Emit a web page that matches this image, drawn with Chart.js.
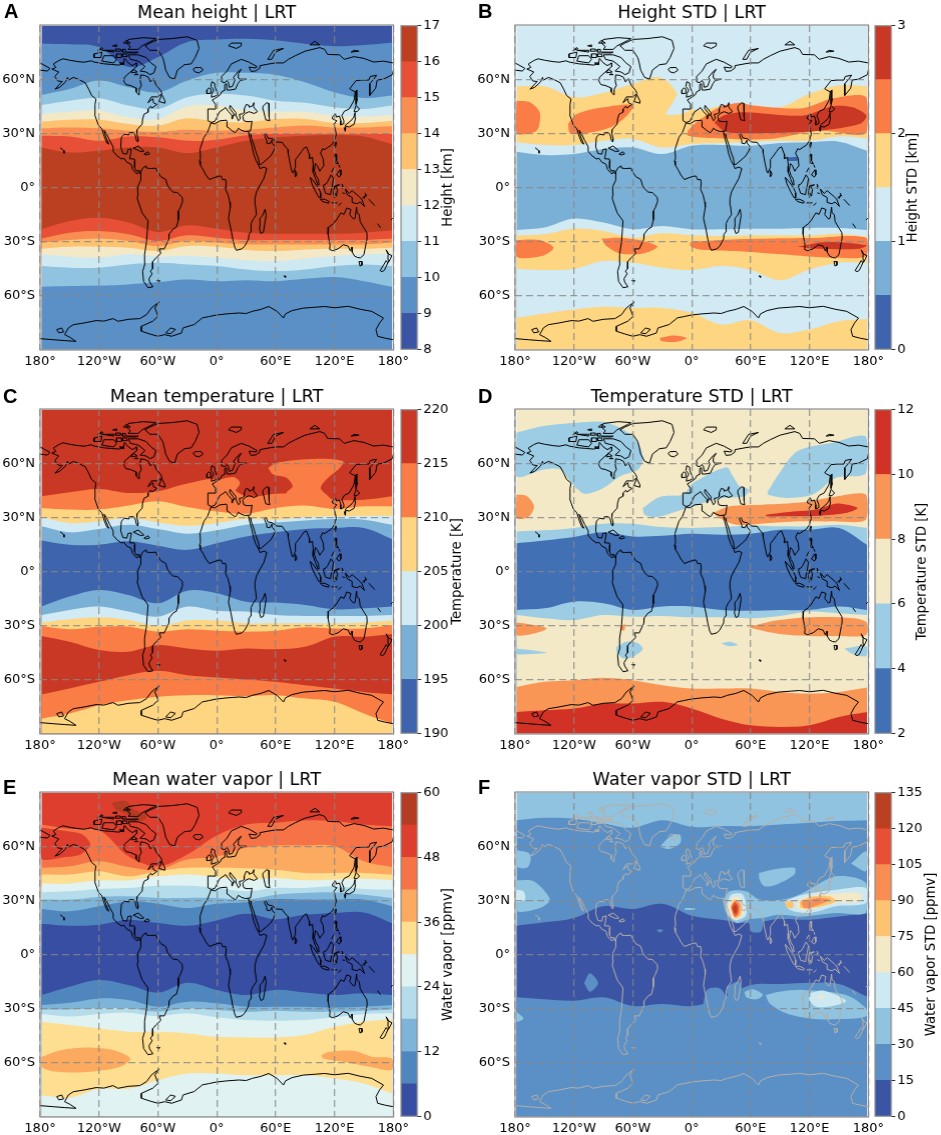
<!DOCTYPE html>
<html>
<head>
<meta charset="utf-8">
<title>LRT maps</title>
<script src="https://cdn.jsdelivr.net/npm/chart.js@4"></script>
<style>
  html, body { margin: 0; padding: 0; background: #fff; }
  #page { position: relative; width: 941px; height: 1135px; overflow: hidden; }
  canvas { position: absolute; display: block; }
  .letter { position: absolute; font: bold 20px/20px "Liberation Sans", sans-serif; color: #000; }
</style>
</head>
<body>
<div id="page"></div>
<script>
// longitudes shared by all contour edges
var edgeLons = [-178.6,-150,-120,-90,-60,-30,0,30,60,90,120,150,178.6];
var xTicks = [-180,-120,-60,0,60,120,180];
var xTickLabels = ['180°','120°W','60°W','0°','60°E','120°E','180°'];
var yTicks = [-60,-30,0,30,60];
var yTickLabels = ['60°S','30°S','0°','30°N','60°N'];

// A: mean height
var heightLevels = [8,9,10,11,12,13,14,15,16,17];
var heightTicks = [8,9,10,11,12,13,14,15,16,17];
var heightBands = [0,1,2,3,4,5,6,7,8,7,6,5,4,3,2,1];
var heightEdges = [
  [79.6,79.3,77.8,66.7,72.2,80.6,82,82.4,81.5,79.6,78.3,79,80.2],
  [51.3,54.6,59.3,55.6,52.8,59.3,63.5,63.5,62.4,58.3,52.8,49.6,50.9],
  [45.7,48.1,49.4,45.4,43.5,50,51.9,50.9,48.1,46.9,44.4,43.5,45.4],
  [40.7,42,42.6,38.9,38,45,45.4,42.6,42,42,39.8,39.4,40.2],
  [36.5,37.6,37.6,35.2,34.3,38.3,36.5,36.1,38,38,35.7,35.7,37],
  [32.8,33.3,32.8,31.5,30.9,32,31.5,32,33.3,34.3,33.3,33.3,33.9],
  [28.7,28.3,25.9,28.3,27.8,25.9,26.5,29,29.6,29.6,29.6,29.6,29.6],
  [22.2,19.4,20.4,22.2,22.2,19.1,22.2,25.9,27.8,28.7,29.1,28.3,24.1],
  [-23.1,-18.5,-16.7,-19.4,-24.6,-20.9,-22.8,-25,-25.6,-25.6,-25.6,-25,-23.7],
  [-28.3,-25,-24.1,-25.9,-29.6,-26.5,-27.8,-29.1,-29.1,-29.1,-29.1,-29.1,-28.3],
  [-30.6,-29.1,-28.3,-29.6,-32.4,-29.6,-30.6,-31.5,-31.5,-31.5,-31.5,-31.5,-30.6],
  [-33.9,-32.8,-32.8,-33.3,-35.2,-32.4,-32.8,-34.6,-35.2,-34.3,-33.9,-33.9,-33.3],
  [-37,-38.3,-38.9,-37,-38.3,-38,-38.9,-40.2,-40.7,-39.4,-38,-37,-36.5],
  [-43.5,-44.4,-44.4,-42.6,-41.7,-42.6,-43.5,-45.4,-46.3,-45.4,-43.5,-42.6,-43.5],
  [-55,-54.6,-54.3,-53.7,-52.4,-50.9,-51.9,-51.3,-51.9,-50.6,-49.6,-51.9,-55]
];
var heightBlobs = [];

// B: height std
var heightStdLevels = [0,0.5,1,1.5,2,2.5,3];
var heightStdTicks = [0,1,2,3];
var heightStdBands = [2,3,2,1,2,3,2,3];
var heightStdEdges = [
  [56.1,56.1,50,52.4,57.4,60.6,43.5,45,45.7,44.4,51.9,56.5,56.1],
  [25,23.5,23.5,25.9,26.9,22.2,24.1,24.6,25.4,25.9,25.9,28.3,27.2],
  [19.8,18,18.5,21.3,22.2,18.5,23.1,23.5,23.1,24.6,25,25.4,20.4],
  [-23.5,-22.2,-17.2,-19.4,-23.1,-21.3,-23.1,-23.1,-22.8,-22.8,-22.4,-22.4,-23.5],
  [-26.5,-25.9,-22.8,-24.1,-27.8,-25.4,-26.5,-26.9,-26.5,-26.5,-26.5,-25.6,-27.2],
  [-45,-45.7,-45,-40.7,-41.7,-44.4,-45.7,-43.5,-45.7,-51.3,-45.4,-41.7,-41.7],
  [-72.2,-69.8,-67.6,-66.1,-66.7,-66.7,-69.4,-75.9,-73.5,-80.6,-78.7,-74.1,-72.8]
];
var heightStdBlobs = [
  [2,[[-11.5,55],[-2,43],[-25.8,40.4],[-18.3,48.1],[-11.5,55]]],
  [4,[[-178.6,48.1],[-165,47.2],[-155,41.7],[-156,33.3],[-161,30.6],[-178.6,30.2],[-178.6,48.1]]],
  [4,[[-126,35.2],[-117,40.7],[-90,44.4],[-60,45.7],[-66,39.8],[-83,33.3],[-110,30],[-124,30.2],[-126,35.2]]],
  [4,[[-4,31.5],[5,36.1],[28,44.4],[49,46.9],[62,45.4],[113,43.9],[144,49.4],[178,50],[178,30.2],[130,31.5],[79,26.9],[32,27.2],[-4,28.7],[-4,31.5]]],
  [5,[[23,36.1],[32,39.8],[52,41.7],[113,39.8],[144,45],[164,44.4],[178,39.8],[171,35.2],[130,31.5],[79,30.2],[45,30.2],[32,31.5],[23,36.1]]],
  [4,[[-178.6,-29.1],[-155,-29.1],[-141,-33.3],[-153,-38],[-178.6,-38.3],[-178.6,-29.1]]],
  [4,[[-92,-28.3],[-73,-27.8],[-49.5,-29.6],[-35,-32.8],[-49.5,-36.5],[-73,-36.5],[-87,-32.4],[-92,-28.3]]],
  [4,[[-1.4,-30.2],[28.5,-29.1],[79,-28.3],[120,-28],[178,-27.8],[178,-38],[147,-38.9],[106,-37.6],[45,-35.2],[8,-34.3],[-1.4,-32.4],[-1.4,-30.2]]],
  [5,[[108,-32.8],[137,-30.2],[178,-32],[171,-33.9],[130,-33.9],[108,-32.8]]],
  [4,[[-32.5,-83.3],[-19,-81.9],[-5.4,-83.3],[-15.6,-85.4],[-31,-85],[-32.5,-83.3]]],
  [0,[[98,16.7],[108,16.7],[108,15],[98,15],[98,16.7]]]
];

// C: mean temperature
var tempLevels = [190,195,200,205,210,215,220];
var tempTicks = [190,195,200,205,210,215,220];
var tempBands = [5,4,3,2,1,0,1,2,3,4,5,4,3];
var tempEdges = [
  [41.7,43.9,45.7,43.5,44.4,48.7,50.9,41.7,43.1,42.6,39.8,39.8,41.7],
  [35.2,34.3,34.3,36.5,38.9,35.7,33.3,32,35.2,36.5,34.6,36.1,36.1],
  [30.2,26.9,27.8,29.6,27.2,25.4,26.9,29.1,28.7,30.2,30.6,30.9,30.9],
  [25,21.7,23.5,25.9,23.5,20.9,22.8,25.9,27.2,28.3,29.1,28.7,25.9],
  [17.2,14.8,14.8,16.7,14.3,12,15.7,19.4,21.7,23.5,24.1,24.1,18],
  [-19.4,-13.9,-10.2,-13,-17.6,-10.6,-12,-16.7,-17.2,-18.5,-20.9,-20.4,-19.4],
  [-24.1,-21.3,-19.4,-22.2,-25,-19.4,-21.7,-22.2,-24.1,-24.6,-24.6,-24.6,-24.1],
  [-28.3,-26.5,-25.4,-26.9,-30.2,-27.2,-27.2,-28.7,-28.7,-28.7,-28.7,-28.3,-27.2],
  [-30.2,-32,-30.6,-30.6,-33.3,-32,-32.8,-33.3,-32.8,-30.9,-31.5,-31.5,-29.6],
  [-35.7,-38.9,-43.5,-44.4,-40.7,-42.6,-43.9,-42.6,-43.1,-41.7,-36.1,-36.1,-34.6],
  [-68.1,-64.8,-61.1,-57.4,-55,-57.4,-58.7,-59.8,-61.1,-63,-64.8,-66.7,-68],
  [-81.5,-78.7,-74.1,-71.3,-69.4,-68.5,-68.5,-69.1,-68.5,-70.4,-72.2,-78.7,-84.3]
];
var tempBlobs = [
  [4,[[52.5,57.4],[61,60.2],[101.7,62.4],[128.8,61.1],[125.4,57.4],[113.6,51.9],[106,46.3],[113.6,41.7],[118.6,38.9],[74.6,39.8],[71,43.5],[77.3,47.2],[71,51.9],[57.6,53.7],[52.5,57.4]]],
  [4,[[-3.4,50],[17,52.4],[23.7,49],[17,42.6],[22,37],[-3.4,38],[-3.4,50]]]
];

// D: temperature std
var tempStdLevels = [2,4,6,8,10,12];
var tempStdTicks = [2,4,6,8,10,12];
var tempStdBands = [2,1,0,1,2,3,4];
var tempStdEdges = [
  [22.2,22.8,24.1,26.5,26.5,24.6,24.1,24.6,25.4,25,25,25.9,24.1],
  [15.7,17.2,19.1,21.7,19.4,19.8,20.9,20.4,20.9,23.1,23.1,24.1,14.8],
  [-21.3,-20.4,-16.7,-17.6,-21.3,-19.4,-19.4,-21.3,-21.7,-21.3,-21.3,-19.4,-21.3],
  [-24.1,-25.9,-26.9,-24.1,-25,-24.6,-25.4,-25.4,-25.9,-24.6,-22.2,-23.1,-24.1],
  [-63.9,-61.1,-60.2,-58.9,-60.2,-63,-64.8,-64.8,-64.8,-66.7,-67.6,-66.7,-64.3],
  [-77.8,-76.9,-75.9,-73.1,-73.1,-72.2,-75.9,-81.5,-85.2,-86.1,-85.2,-80.6,-77.8]
];
var tempStdBlobs = [
  [1,[[-178.6,76.9],[-151,80.6],[-117,82.4],[-90,82.8],[-70,78.7],[-56,72.2],[-49.5,63],[-54.6,56.5],[-73,52.8],[-90,46.3],[-109,43.1],[-121,48.1],[-134,56.5],[-151,56.5],[-178.6,52.8],[-178.6,76.9]]],
  [1,[[-50,35.2],[-32.5,41.3],[-8.8,42.6],[1.4,49],[35.3,57.8],[42,52.8],[48.8,47.2],[58.3,45.4],[53.9,41.7],[31.9,40.7],[11.5,38],[-15.6,33.3],[-35.9,30.2],[-47.8,31.5],[-50,35.2]]],
  [1,[[77.6,44.4],[89.5,54.6],[108,66.7],[143.7,71.3],[177.6,74.6],[177.6,54.6],[147,51.9],[123.4,42.6],[96.3,40.7],[77.6,42.6],[77.6,44.4]]],
  [3,[[-178.6,42.6],[-168,41.7],[-160.7,36.1],[-166.4,30.2],[-178.6,29.6],[-178.6,42.6]]],
  [3,[[21.7,32.4],[38.6,36.1],[72.5,37],[113,38.3],[143.7,41.3],[177.6,42.6],[177.6,28.7],[143.7,27.8],[113,27.8],[79.3,26.9],[45.4,25.9],[28.5,29.6],[21.7,32.4]]],
  [4,[[75.9,31.5],[96.3,32.8],[126.8,34.3],[147,37.6],[169,35.2],[157,32.4],[130,30.9],[96.3,30.6],[75.9,30.6],[75.9,31.5]]],
  [3,[[-178.6,-28.3],[-161,-29.6],[-147.8,-31.5],[-161,-34.3],[-178.6,-35.2],[-178.6,-28.3]]],
  [3,[[-72.5,-30.2],[-67.8,-29.3],[-69,-32.8],[-72.5,-32],[-72.5,-30.2]]],
  [3,[[57.3,-30.9],[86,-27.2],[120,-25.4],[150.5,-25.4],[177.6,-27.8],[177.6,-35.2],[147,-35.7],[120,-35.7],[86,-34.3],[57.3,-30.9]]],
  [1,[[-76.6,-41.7],[-66.4,-38.9],[-54.6,-39.8],[-50,-43.1],[-59.7,-47.2],[-69.8,-48.1],[-76.6,-44.4],[-76.6,-41.7]]],
  [1,[[30,-39.8],[38.6,-38.9],[47,-40.7],[37,-41.3],[30,-39.8]]],
  [1,[[-178.6,-42.6],[-164.7,-43.5],[-147.8,-45],[-164.7,-45.7],[-178.6,-45.7],[-178.6,-42.6]]],
  [1,[[155.6,-42.6],[177.6,-41.3],[177.6,-46.9],[164,-45.7],[155.6,-42.6]]]
];

// E: mean water vapor
var vaporLevels = [0,6,12,18,24,30,36,42,48,54,60];
var vaporTicks = [0,12,24,36,48,60];
var vaporBands = [8,7,6,5,4,3,2,1,0,1,2,3,4,5,4];
var vaporEdges = [
  [72,69.6,68.9,54.4,48.9,55.4,65.9,72,73,74.3,73.9,72,71.1],
  [48,48.9,51.7,48.5,47,52.6,54.1,59.1,60.4,60.4,60,51.7,48.5],
  [44.3,44.3,46.1,43.3,46.1,48,48,47.8,47,45.2,45.2,45.2,44.3],
  [39.3,39.3,41.1,41.1,43.3,44.3,43,41.5,42.4,41.1,41.5,41.9,41.1],
  [34.4,35,36.3,36.9,38.1,38.1,36.9,35,36.9,36.9,37.8,36.3,35.9],
  [30.4,30.4,31.9,32.2,31.3,31.3,31.3,30.4,33.1,34.1,34.4,33.1,31.3],
  [25.2,23.9,26.7,29.4,28.1,25.7,28.1,28.9,30.7,30.4,30.4,30.4,26.7],
  [17,15.9,16.5,19.3,17.4,15.9,18.9,22.6,19.6,22,23,23.3,17.4],
  [-22.4,-17.8,-14.1,-16.9,-21.1,-15.6,-19.6,-22.4,-19.6,-21.1,-22.4,-21.5,-22.4],
  [-28,-26.7,-24.3,-25.2,-28.9,-26.1,-27,-28.9,-28.9,-28.9,-29.3,-28.9,-28],
  [-30.4,-30.4,-29.8,-29.8,-31.7,-29.8,-30.7,-31.7,-31.1,-31.7,-31.7,-31.1,-30.4],
  [-33,-34.4,-33,-32.2,-34.1,-32.6,-34.8,-36.3,-36.7,-36.3,-34.8,-33,-32.6],
  [-37.2,-39.1,-40.9,-42.8,-42.8,-43.7,-45.6,-45.9,-45.9,-44.6,-40,-37.2,-35.9],
  [-78,-79.3,-74.3,-74.3,-69.6,-65.9,-65.9,-66.9,-66.9,-66.9,-68.7,-71.5,-77]
];
var vaporBlobs = [
  [9,[[-106.8,84],[-93,85],[-84.7,80.4],[-71,76.7],[-78,73.9],[-95,78.5],[-103.4,80.4],[-106.8,84]]],
  [8,[[-178.6,70.2],[-152.5,68.3],[-137,66.5],[-128.8,60.9],[-139,55.4],[-156,53.9],[-178.6,53.1],[-178.6,70.2]]],
  [6,[[-178.6,-56.7],[-159,-53],[-132,-51.5],[-105,-53],[-88,-57.6],[-98.3,-62.2],[-128.8,-65],[-162.7,-65],[-178.6,-62.2],[-178.6,-56.7]]],
  [6,[[106.8,-55.7],[115,-53.9],[139,-53.3],[159,-56.7],[178.6,-57.6],[178.6,-64],[156,-62.2],[128.8,-59.4],[108.5,-57.6],[106.8,-55.7]]]
];

// F: water vapor std
var vaporStdLevels = [0,15,30,45,60,75,90,105,120,135];
var vaporStdTicks = [0,15,30,45,60,75,90,105,120,135];
var vaporStdBands = [2,1,0,1];
var vaporStdEdges = [
  [74.4,75.7,75.2,72.6,70.2,74.3,70.7,71.1,71.1,72,73,73.9,74.4],
  [15.9,17.8,20.2,26.7,25.2,28.1,21.5,19.3,17.4,19.6,19.3,21.1,22.6],
  [-23.7,-24.8,-25.6,-23.7,-28.5,-27.4,-28.5,-24.3,-16.9,-16.3,-15.6,-16.3,-23.3]
];
var vaporStdBlobs = [
  [1,[[58.3,19.6],[60.7,12.8],[70.8,12.8],[71.9,19.6],[58.3,19.6]]],
  [1,[[11.5,-28.5],[15.6,-19.6],[28.5,-18.7],[34.6,-24.3],[11.5,-28.5]]],
  [1,[[35.3,-17.8],[48.8,-15],[49.5,-24.3],[37,-22.4],[35.3,-17.8]]],
  [1,[[-109.8,-15.9],[-103.7,-10.4],[-95.3,-15.9],[-103.7,-20.6],[-109.8,-15.9]]],
  [1,[[-36,13.7],[-29,13.7],[-32.5,12.2],[-36,13.7]]],
  [2,[[-32.5,59.6],[-22.4,65.2],[-12.2,66.5],[-11.5,61.9],[-22.4,58.5],[-32.5,59.6]]],
  [2,[[-178.6,57.8],[-166.4,56.3],[-164,52.6],[-168,48],[-178.6,48.9],[-178.6,57.8]]],
  [2,[[162.4,50.4],[177.6,57.2],[177.6,46.1],[162.4,50.4]]],
  [2,[[-178.6,41.1],[-161,40.6],[-144.4,30.4],[-154.6,25.7],[-178.6,24.4],[-178.6,41.1]]],
  [2,[[68.5,45.2],[86,47.4],[104.7,48],[104.7,44.3],[86,38.7],[74.2,37.8],[69,41.5],[68.5,45.2]]],
  [2,[[31.9,29.4],[38.6,35],[55.6,35],[69,30.4],[92.9,30.4],[113.2,34.1],[147,43.3],[177.6,39.6],[177.6,23.3],[147,23],[113.2,21.1],[87.8,22],[72.5,20.2],[59,19.6],[45.4,17.4],[35.3,23],[31.9,29.4]]],
  [2,[[75.3,-22.4],[89.5,-20.6],[113.2,-19.6],[157.3,-22.4],[177.6,-29.8],[177.6,-34.4],[147,-35.9],[120,-35.4],[96.3,-32.6],[79.3,-27],[75.3,-22.4]]],
  [2,[[53.9,-20.6],[62.4,-19.3],[72.5,-22.4],[65.8,-24.8],[55.6,-23.7],[53.9,-20.6]]],
  [2,[[-178.6,-31.7],[-171.5,-35.4],[-178,-37.2],[-178.6,-31.7]]],
  [2,[[-7.1,25.7],[3,25.7],[3,24.8],[-7.1,24.8],[-7.1,25.7]]],
  [3,[[94.6,29.4],[113.2,33.1],[147,35.9],[177.6,36.9],[177.6,28.5],[147,26.7],[120,23],[99.7,24.8],[94.6,29.4]]],
  [3,[[35.3,26.7],[40.3,33.1],[52.2,33.1],[55.6,22],[45.4,18.9],[37,22],[35.3,26.7]]],
  [3,[[-178.6,35.9],[-171.5,35],[-169.8,30.4],[-178.6,29.4],[-178.6,35.9]]],
  [3,[[120,-21.5],[133.6,-20],[157.3,-25.6],[143.7,-28.5],[126.8,-28.9],[120,-25.2],[120,-21.5]]],
  [4,[[106.4,29.4],[120,32.6],[147,33.7],[172.5,33.7],[170.8,29.4],[147,28.5],[116.6,24.4],[108,25.7],[106.4,29.4]]],
  [4,[[37,26.7],[42,31.9],[50.5,30.7],[52.2,22],[43.7,19.6],[38.6,22],[37,26.7]]],
  [4,[[127.5,-23.7],[133.6,-22.6],[133.6,-24.8],[127.5,-23.7]]],
  [5,[[95.6,29.4],[103,29.4],[103,25.7],[96.3,26.3],[95.6,29.4]]],
  [5,[[109.8,29.4],[123.4,32.2],[140.3,32.2],[147,29.4],[123.4,25.7],[111.5,25.7],[109.8,29.4]]],
  [5,[[39.3,26.7],[43.7,30.4],[49.5,28.5],[50.5,22],[43.7,20.2],[39.3,26.7]]],
  [6,[[111.5,28.9],[126.8,31.3],[140.3,30.4],[130,27.6],[115,25.7],[111.5,28.9]]],
  [6,[[40.3,26.7],[44.4,29.8],[48.8,27.6],[48.1,22],[43.7,20.7],[40.3,26.7]]],
  [7,[[40.3,25.7],[43.7,28.9],[47.5,26.7],[46.8,22.6],[43.7,21.5],[40.3,25.7]]],
  [8,[[42,25.7],[44.4,27.6],[46.1,25.7],[45.4,23.3],[43.7,23],[42,25.7]]]
];

// coastlines, lon/lat
var coastNorthAmerica = [[-168,65.6],[-164,66.5],[-166.5,68.4],[-161,70.3],[-156.6,71.3],[-150,70.5],[-141,69.7],[-135,69.4],[-128,70.2],[-125,69.5],[-115,68.5],[-108,68.2],[-100,67.8],[-95,68.5],[-94,71.5],[-90,69],[-86,67.5],[-81.5,69],[-81.5,67],[-87,64.5],[-94,61],[-94.6,58.9],[-92.5,57],[-88,56.5],[-82.5,55.2],[-82,52.9],[-79.5,51.3],[-79,54.5],[-76.8,56.5],[-78,59],[-77.5,62.4],[-73,62],[-69.5,61],[-67.5,58.5],[-64.5,60.3],[-61.5,56.5],[-57,53.7],[-55.8,52],[-60,50.2],[-66.5,50.2],[-70,47],[-65,49.2],[-64.5,47],[-61,46],[-66,44],[-67,45],[-70,43.5],[-70,41.7],[-74,40.6],[-75.5,38],[-76,35],[-78,34],[-81,32],[-81.4,30],[-80,26.8],[-80.4,25.2],[-81.8,26],[-82.8,28.5],[-84,30],[-86,30.4],[-89.5,30.2],[-89.5,29.1],[-94,29.5],[-97.2,27.8],[-97.8,22.5],[-95.5,18.8],[-91.5,18.5],[-90.5,21],[-87,21.4],[-88,18],[-88.8,15.9],[-84,15.8],[-83.3,14.9],[-83.7,11],[-82,9],[-79.7,9.5],[-77.3,8.7],[-78,7.5],[-79.5,8.8],[-81,7.5],[-83,8.3],[-85.7,10],[-87.5,13],[-91.5,14],[-94.5,16.2],[-97,15.8],[-101.5,17.5],[-105.5,20],[-105.5,22.5],[-109,26],[-112.5,30],[-114.8,31.7],[-113,28],[-110,24],[-112,24.7],[-114.5,28],[-117,32.5],[-120.5,34.5],[-122.5,37.5],[-124.3,40.3],[-124,46],[-123,49],[-127.5,51],[-130.5,54.5],[-134,58],[-140,59.7],[-146,61],[-151,59.5],[-152,61],[-154,58.5],[-160,55.5],[-164.8,54.5],[-157.5,58.7],[-162,59],[-165,61.5],[-161,64],[-168,65.6]];
var coastSouthAmerica = [[-77.3,8.7],[-75.5,10.7],[-72,12],[-71.5,10.8],[-68,10.5],[-62,10.7],[-60,8.5],[-57,6],[-52,4.5],[-50,1],[-48,-0.7],[-44.5,-2.5],[-40,-2.8],[-35.2,-5.5],[-34.8,-7.8],[-37,-11],[-39,-13],[-39,-17.8],[-41,-22],[-44.5,-23],[-48.5,-25.8],[-48.7,-28.5],[-53.5,-34],[-58.5,-34],[-57,-36.5],[-62,-39],[-65,-41],[-65.3,-45],[-67.5,-46.3],[-65.8,-47.8],[-69,-50.5],[-68.3,-52.3],[-65,-55],[-70,-55.5],[-74.5,-52],[-75.5,-46.5],[-73,-42],[-73.5,-37],[-71.5,-30],[-70,-18.5],[-76,-14],[-81,-6],[-80,-3],[-80.5,0.5],[-77.5,4],[-77.5,7.5],[-77.3,8.7]];
var coastAfrica = [[32.5,31.2],[29,31],[25,31.7],[22,32.8],[20,31],[19,30.3],[15.5,31.5],[11,33.5],[10.5,36.5],[10,37.3],[3,36.9],[-2,35.2],[-5.5,35.8],[-6,35.5],[-9.5,30.5],[-13,27.8],[-16.5,22],[-17,21],[-16.5,16],[-17.5,14.7],[-16.7,12.4],[-13.5,9.5],[-11,6.9],[-7.5,4.4],[-4,5.2],[2,6.3],[4.5,6.3],[6,4.3],[9,4.5],[9.7,2.5],[9,-1],[11.5,-4],[13.3,-8],[13.8,-11],[12,-17],[14.5,-23],[16.5,-29],[18.3,-33],[20,-34.8],[25.5,-34],[28.5,-32.5],[32.5,-28.5],[32.8,-26],[35.5,-24],[35,-20],[37,-17.7],[40.5,-15],[39.5,-10],[39,-6],[40.5,-2.5],[44,1.2],[48,5],[51,10.5],[48,11.3],[44,10.5],[43,12],[40,15],[37.5,19],[36,23],[33.5,27.8],[32.5,30],[32.5,31.2]];
var coastAsiaSouth = [[32.5,31.2],[34.3,31.3],[35,33],[36,36.7],[34,36.5],[30.5,36.5],[27.5,37],[26.5,39.5],[29,41],[33,42],[38,41],[41.5,42],[37.5,44.7],[38,47],[36.5,45.3],[33.5,44.5],[33,45.5],[30,46],[28,43.5],[28,41.5],[26,40.8],[23,40.5],[24,38],[22,37],[20,39.5],[19.5,41.5],[15,44.5],[13.7,45.5],[13,44],[16,41.8],[18.4,40],[17,40.3],[16,38],[15.5,40],[12,42],[9,44.3],[6,43],[3,42],[0,38.7],[-2,36.7],[-5.5,36],[-9,37],[-9,38.7],[-9,43.5],[-1.8,43.4],[-1.2,46],[-4.5,48.5],[-1.5,49.5],[1.5,50.5],[3.5,51.3],[5,53],[8.5,54],[8.2,57],[10,57.5],[10.5,54],[14,54],[19,54.5],[21.5,57.5],[24,59.3],[30,60],[24,60],[21.5,61],[22,63],[25,65.5],[21.5,64],[17,61],[18.5,59.5],[16,56],[12.8,55.5],[12,58],[10.5,59.3],[8,58],[5.5,58.5],[5,61.5],[10.5,64.5],[15,68.5],[25,71],[33,69.4],[41,67],[40,66.2],[33,66.7],[35,64.3],[40,64.6],[44,66.2],[44,67.5],[54,68.5],[60,69],[68,69],[73,71],[80,73],[90,75.5],[105,77.5],[110,76.5],[113,73.7],[125,73.5],[130,71],[140,72.5],[150,71.5],[160,69.5],[170,70],[180,69]];
var coastAsiaEast = [[32.5,30],[34.8,29.5],[35,28],[38,23.5],[39.5,20.5],[42.5,16],[43.3,12.7],[45,12.8],[52,16],[55,17.5],[58,20.2],[59.8,22.5],[56.5,24.5],[56.3,26.2],[54,24.2],[51.5,24.5],[51,26],[48.5,29],[50,30.2],[52,27.5],[56.5,27],[61,25.2],[66.8,25],[68.5,23.5],[72.5,21],[72.8,19],[74.5,14],[76.5,9],[77.5,8],[80,11],[80.2,15.5],[82.5,17],[86.5,20],[89,21.8],[91.5,22.5],[94.3,18.5],[94.5,16],[97.5,16.7],[98.5,12],[98.2,8.5],[100.5,5],[103,1.5],[104.3,1.5],[103.5,4.5],[101,6.8],[99.5,9.5],[100.5,13.3],[102.5,12.2],[105,9],[106.8,10.5],[109.2,12],[108.5,16],[105.8,19],[108,21.5],[110,21],[113.5,22.3],[117,23.5],[120,26],[121.8,29.5],[121,32],[119.5,35],[122.3,37],[118,38],[118,39.2],[121,40.7],[122,39],[125,39.6],[126.5,37],[126.3,34.6],[129,35.3],[129.5,37],[127.5,39.8],[130,42.2],[135,43.5],[140,48.3],[141.2,53],[137.5,54],[135.5,54.7],[142,59.2],[149,59.5],[155,59.5],[156.5,61.5],[163,62.2],[160,60],[156,57.5],[156,51],[162,55],[163.5,59.5],[170,60],[179,62.5],[180,65]];
var coastChukotka = [[-180,65],[-172.5,64.5],[-170,66],[-175,67.5],[-180,69]];
var coastCaspian = [[47,45],[51,47],[53,46.5],[53,42],[53.8,39],[54,37],[50,37.5],[49,39.5],[47.5,43],[47,45]];
var coastGreenland = [[-73,78.5],[-68,80],[-60,82],[-45,82.5],[-30,83.5],[-20,81.5],[-18,77],[-22,72],[-26,68.5],[-33,68],[-40,65],[-43,60],[-48,61],[-52,65],[-53.5,69],[-55,72],[-60,76],[-68,76],[-73,78.5]];
var coastBaffin = [[-80,73.5],[-72,72],[-67,69],[-62,67],[-64,63.5],[-68,62.5],[-72,64],[-78,64.5],[-73,67],[-80,70],[-88,71],[-90,73.5],[-80,73.5]];
var coastVictoria = [[-117,70],[-105,69],[-102,71],[-105,73],[-115,73],[-117,70]];
var coastEllesmere = [[-90,76.5],[-80,76.5],[-76,78.5],[-65,81.5],[-62,82.5],[-75,83],[-90,82],[-92,80],[-88,78],[-90,76.5]];
var coastBanks = [[-125,72],[-118,72],[-117,75],[-125,74],[-125,72]];
var coastDevon = [[-92,75],[-80,75],[-82,74.5],[-92,74.6],[-92,75]];
var coastMelville = [[-117,76],[-105,75],[-105,76],[-117,76]];
var coastAxel = [[-95,80],[-88,80],[-92,81.5],[-95,80]];
var coastSouthampton = [[-87,63.5],[-81,64],[-85,65.5],[-87,63.5]];
var coastPrinceWales = [[-102,72],[-97,72],[-97,74],[-102,74],[-102,72]];
var coastSomerset = [[-96,72.5],[-91,72.5],[-92,74],[-96,74],[-96,72.5]];
var coastBathurst = [[-103,75.5],[-98,75.5],[-98,76.7],[-103,76.7],[-103,75.5]];
var coastPatrick = [[-121,76],[-116,76.8],[-117,77.5],[-121,76]];
var coastCornwallis = [[-96,75],[-93,75],[-93,76.5],[-96,76.5],[-96,75]];
var coastKingWilliam = [[-99,69],[-95,69],[-95,68],[-99,69]];
var coastCoats = [[-84,62.5],[-80,62.5],[-82,63],[-84,62.5]];
var coastEllef = [[-106,78.5],[-102,78],[-102,79],[-106,78.5]];
var coastNewfoundland = [[-59,47.7],[-53,46.7],[-52.8,48],[-56,51.5],[-59,47.7]];
var coastCuba = [[-85,21.8],[-80,23],[-74.2,20.2],[-77.5,19.9],[-85,21.8]];
var coastHispaniola = [[-74,18.5],[-70,19.8],[-68.4,18.6],[-72,18],[-74,18.5]];
var coastHawaii = [[-159.5,22],[-156,20.5],[-155.5,19]];
var coastBritain = [[-5.5,50],[1.5,51.2],[0,53.5],[-2,56],[-2,57.7],[-5,58.6],[-6,56],[-3,54],[-5,52],[-5.5,50]];
var coastIreland = [[-10,52],[-6,52.2],[-6,54.5],[-8,55.2],[-10,54],[-10,52]];
var coastIceland = [[-24,65.5],[-22,64],[-18,63.5],[-14,65],[-16,66.5],[-22,66.4],[-24,65.5]];
var coastSvalbard = [[12,78.5],[20,77],[25,78.5],[25,80],[15,80],[12,78.5]];
var coastNovaya = [[52,71],[56,71],[60,75],[68,77],[58,76],[52,71]];
var coastSevernaya = [[95,79],[105,79],[100,81],[95,79]];
var coastSiberianIs = [[137,75],[145,75.5],[140,76],[137,75]];
var coastSakhalin = [[142,46],[143.5,49],[143,54],[142,53.5],[142,46]];
var coastHonshu = [[130.8,34],[135,33.5],[140,35],[141.5,38.5],[141,41.5],[139.8,39],[136.5,36.8],[132,35],[130.8,34]];
var coastHokkaido = [[140,42],[143,42],[145.5,43.5],[142,45.5],[140,42]];
var coastKyushu = [[130,33],[131.5,33.5],[131,31.2],[130,33]];
var coastTaiwan = [[120.2,23],[121,25],[122,25],[120.9,22],[120.2,23]];
var coastSriLanka = [[80,9.5],[81.8,7.5],[80.5,6],[79.8,8],[80,9.5]];
var coastLuzon = [[120.3,16],[120.8,18.5],[122.2,18.3],[122,15],[124,13],[120.5,13.8],[120.3,16]];
var coastMindanao = [[122,7],[125.5,9.8],[126.5,7],[125,5.8],[122,7]];
var coastPalawan = [[117,8.5],[119.5,11]];
var coastSamar = [[124.5,12.5],[125.5,11]];
var coastSumatra = [[95.3,5.6],[98,4],[103.5,0],[106,-3],[105.8,-5.8],[104,-5.5],[100.5,-2],[97,2],[95.3,5.6]];
var coastJava = [[105.5,-6.5],[110,-6.5],[114.5,-7.7],[114,-8.7],[108,-7.8],[105.5,-6.5]];
var coastBorneo = [[109,1.5],[111,1.8],[113,3.2],[116.5,7],[119,5],[117.8,1],[116.5,-2],[116,-4],[111,-3.2],[109,0],[109,1.5]];
var coastSulawesi = [[120,1],[125,1.5],[121,0.5],[123,-1],[122,-4.8],[120.5,-3],[120,-5.5],[119,-3],[120,1]];
var coastHalmahera = [[127.5,2],[128.5,1],[128,-0.5]];
var coastSeram = [[128,-3],[130.5,-3.3]];
var coastFlores = [[117,-8.5],[123,-8.5]];
var coastNewGuinea = [[131,-0.8],[135,-3.3],[138,-1.7],[145,-5],[147.8,-6.5],[150.5,-10.5],[146,-8],[143,-9],[138,-8.3],[138,-5.5],[133,-4],[131,-0.8]];
var coastTimor = [[124,-10],[127,-8.5]];
var coastNewBritain = [[148.5,-5.8],[152,-4.2],[150,-6.3]];
var coastNewIreland = [[151,-3],[153,-4.8]];
var coastSolomon = [[155,-6.5],[161,-10]];
var coastCaledonia = [[164,-20],[167,-22.3]];
var coastFiji = [[177.5,-18],[179.5,-17]];
var coastAustralia = [[114,-22],[113.5,-26],[115.5,-32],[115,-34.3],[118,-35],[123.5,-34],[129,-31.7],[134,-32.5],[136,-35],[138,-33],[138,-35.7],[140.5,-38],[143.5,-38.8],[146.5,-39],[150,-37.2],[151.5,-33],[153.3,-28],[153,-25],[149.5,-22],[146.2,-18.9],[145.3,-15],[143,-14],[142.5,-10.8],[141,-17],[139.5,-17.5],[135.5,-15],[136.8,-12.2],[132.5,-11.3],[129.7,-14.9],[126.5,-14],[122,-18],[119,-20],[114,-22]];
var coastTasmania = [[145,-41],[148,-41],[148,-43],[146,-43.5],[145,-41]];
var coastNzNorth = [[172.7,-34.5],[175.5,-37],[178.5,-37.7],[177,-39.5],[175,-41.5],[174.5,-39],[174.7,-37],[172.7,-34.5]];
var coastNzSouth = [[172.7,-40.5],[174.3,-41.7],[172.8,-43.7],[170.8,-45.9],[168.5,-46.6],[166.5,-46],[170,-43],[172.7,-40.5]];
var coastMadagascar = [[49.3,-12],[50.3,-15.5],[47.5,-24.8],[45,-25.5],[43.5,-23],[44.3,-20],[44,-17],[46.5,-15.7],[49.3,-12]];
var coastFalklands = [[-61,-51.5],[-58,-51.5],[-59,-52.3],[-61,-51.5]];
var coastKerguelen = [[68.5,-49],[70,-49],[70,-49.8],[68.5,-49]];
var coastAntarctica = [[-180,-83.7],[-166.5,-84.3],[-154.6,-84.8],[-143.4,-85.2],[-149.5,-83],[-155,-81.5],[-151.2,-77.8],[-146.2,-76],[-135,-75],[-122.7,-73.7],[-115,-74],[-105.7,-72.6],[-100.6,-74.1],[-90,-73],[-78.3,-72.6],[-71.5,-70.4],[-66.5,-66.7],[-58.7,-63.4],[-63,-66.7],[-59.8,-71.3],[-65,-74],[-76.8,-76.9],[-76.8,-79.6],[-68.3,-81.1],[-60,-82.4],[-52.9,-81.5],[-46,-82.4],[-36,-80.6],[-34.4,-77.8],[-23,-75.9],[-14.6,-72.2],[-8,-71.5],[-1,-70.7],[10,-70],[22.6,-69.5],[30,-69.8],[36.2,-68.6],[45,-67.5],[53,-65.9],[61.5,-68.6],[68,-72.3],[70,-70],[76.6,-68.2],[88,-66.8],[100.3,-66.3],[110,-65.9],[120,-66.6],[134,-65.8],[146,-67.4],[158,-68.6],[170,-72.3],[166,-75],[162.3,-78.7],[164,-82.4],[172,-83.5],[180,-84.3]];
var coastBerkner = [[-52,-80.5],[-47,-77.8],[-42,-78.6],[-47,-81],[-52,-80.5]];
var coastRoosevelt = [[-163,-78.7],[-158,-77.8],[-156,-80],[-161,-80.5],[-163,-78.7]];

var allCoasts = [coastNorthAmerica,coastSouthAmerica,coastAfrica,coastAsiaSouth,coastAsiaEast,coastChukotka,coastCaspian,coastGreenland,coastBaffin,coastVictoria,coastEllesmere,coastBanks,coastDevon,coastMelville,coastAxel,coastSouthampton,coastPrinceWales,coastSomerset,coastBathurst,coastPatrick,coastCornwallis,coastKingWilliam,coastCoats,coastEllef,coastNewfoundland,coastCuba,coastHispaniola,coastHawaii,coastBritain,coastIreland,coastIceland,coastSvalbard,coastNovaya,coastSevernaya,coastSiberianIs,coastSakhalin,coastHonshu,coastHokkaido,coastKyushu,coastTaiwan,coastSriLanka,coastLuzon,coastMindanao,coastPalawan,coastSamar,coastSumatra,coastJava,coastBorneo,coastSulawesi,coastHalmahera,coastSeram,coastFlores,coastNewGuinea,coastTimor,coastNewBritain,coastNewIreland,coastSolomon,coastCaledonia,coastFiji,coastAustralia,coastTasmania,coastNzNorth,coastNzSouth,coastMadagascar,coastFalklands,coastKerguelen,coastAntarctica,coastBerkner,coastRoosevelt];

var nineColors = ['#3b54a4','#5a90c6','#8fc3e0','#cfe9f3','#f3e9c6','#fec371','#fa8e52','#e75036','#bb4022'];
var sixColors = ['#3d64ad','#7ab0d6','#d1eaf3','#fed682','#fa7d46','#c93725'];
var fiveColors = ['#4270b4','#9dcde4','#f3e9c6','#fa9655','#d13225'];
var tenColors = ['#384ea2','#5086be','#7db4d8','#b4dceb','#e1f2f3','#fede91','#fcaa5f','#f57346','#de3e2d','#b43c23'];

var fontFamily = '"DejaVu Sans", sans-serif';
var tickSize = 13;
var labelSize = 13.2;
var frameColor = '#8a8a8a';

var panels = [
  { letter:'A', letterX:4, letterY:1, left:40, top:25.5, title:'Mean height | LRT', label:'Height [km]', labelGap:31, levels:heightLevels, ticks:heightTicks, colors:nineColors, bands:heightBands, edges:heightEdges, blobs:heightBlobs, coast:'#000' },
  { letter:'B', letterX:478, letterY:1, left:514.7, top:25.5, title:'Height STD | LRT', label:'Height STD [km]', labelGap:21.5, levels:heightStdLevels, ticks:heightStdTicks, colors:sixColors, bands:heightStdBands, edges:heightStdEdges, blobs:heightStdBlobs, coast:'#000' },
  { letter:'C', letterX:3, letterY:386, left:40, top:409, title:'Mean temperature | LRT', label:'Temperature [K]', labelGap:40, levels:tempLevels, ticks:tempTicks, colors:sixColors, bands:tempBands, edges:tempEdges, blobs:tempBlobs, coast:'#000' },
  { letter:'D', letterX:478, letterY:386, left:514.7, top:409, title:'Temperature STD | LRT', label:'Temperature STD [K]', labelGap:31, levels:tempStdLevels, ticks:tempStdTicks, colors:fiveColors, bands:tempStdBands, edges:tempStdEdges, blobs:tempStdBlobs, coast:'#000' },
  { letter:'E', letterX:3, letterY:777, left:40, top:792.3, title:'Mean water vapor | LRT', label:'Water vapor [ppmv]', labelGap:31, levels:vaporLevels, ticks:vaporTicks, colors:tenColors, bands:vaporBands, edges:vaporEdges, blobs:vaporBlobs, coast:'#000' },
  { letter:'F', letterX:478, letterY:777, left:514.7, top:792.3, title:'Water vapor STD | LRT', label:'Water vapor STD [ppmv]', labelGap:40, levels:vaporStdLevels, ticks:vaporStdTicks, colors:nineColors, bands:vaporStdBands, edges:vaporStdEdges, blobs:vaporStdBlobs, coast:'#b8afa8' }
];

var axW = 353.5, axH = 324, cbGap = 7, cbW = 16.5;
var page = document.getElementById('page');

// outlines the axes box on all four sides
var framePlugin = {
  id: 'frame',
  afterDraw: function(chart) {
    var a = chart.chartArea, c = chart.ctx;
    c.save();
    c.strokeStyle = frameColor;
    c.lineWidth = 1.2;
    c.strokeRect(a.left, a.top, a.right - a.left, a.bottom - a.top);
    c.restore();
  }
};

// chart.js turns right hand axis titles the other way, so the colorbar label is drawn here
var cbLabelPlugin = {
  id: 'cbLabel',
  afterDraw: function(chart, args, opts) {
    var a = chart.chartArea, c = chart.ctx;
    c.save();
    c.translate(a.right + opts.gap, (a.top + a.bottom) / 2);
    c.rotate(-Math.PI / 2);
    c.font = labelSize + 'px ' + fontFamily;
    c.fillStyle = '#000';
    c.textAlign = 'center';
    c.textBaseline = 'middle';
    c.fillText(opts.text, 0, 0);
    c.restore();
  }
};

function addCanvas(left, top, w, h) {
  var cv = document.createElement('canvas');
  cv.width = w; cv.height = h;
  cv.style.left = left + 'px'; cv.style.top = top + 'px';
  cv.style.width = w + 'px'; cv.style.height = h + 'px';
  page.appendChild(cv);
  return cv;
}

function mapDatasets(p) {
  var sets = [];
  var fillFloor = { value: -89.6 };
  // painted north to south: each edge floods everything below it
  sets.push({ data: edgeLons.map(function(x) { return { x: x, y: 89.6 }; }), backgroundColor: p.colors[p.bands[0]], fill: fillFloor, tension: 0 });
  p.edges.forEach(function(lats, i) {
    sets.push({ data: lats.map(function(y, k) { return { x: edgeLons[k], y: y }; }), backgroundColor: p.colors[p.bands[i + 1]], fill: fillFloor, tension: 0.35 });
  });
  p.blobs.forEach(function(b) {
    sets.push({ data: b[1].map(function(q) { return { x: q[0], y: q[1] }; }), backgroundColor: p.colors[b[0]], fill: 'shape', tension: 0.3 });
  });
  allCoasts.forEach(function(line) {
    sets.push({ data: line.map(function(q) { return { x: q[0], y: q[1] }; }), borderColor: p.coast, borderWidth: 1, fill: false, tension: 0, isCoast: true });
  });
  var n = sets.length;
  sets.forEach(function(s, i) {
    s.showLine = true;
    s.pointRadius = 0;
    s.order = n - i;
    if (!s.isCoast) s.borderWidth = 0;
  });
  return sets;
}

function drawMap(p) {
  var marginL = 40, marginT = 24, marginB = 24, marginR = 18;
  var left = Math.round(p.left) - marginL, top = Math.floor(p.top) - marginT;
  var cv = addCanvas(left, top, marginL + axW + marginR + 1, marginT + axH + marginB + 1);
  new Chart(cv, {
    type: 'scatter',
    data: { datasets: mapDatasets(p) },
    plugins: [framePlugin],
    options: {
      responsive: false,
      animation: false,
      layout: { padding: { right: marginR } },
      plugins: {
        legend: { display: false },
        tooltip: { enabled: false },
        title: { display: true, text: p.title, fullSize: false, color: '#000', font: { family: fontFamily, size: 17.6, weight: 'normal' }, padding: { top: 1.5, bottom: 1.4 } }
      },
      scales: {
        x: {
          type: 'linear', min: -180, max: 180,
          afterBuildTicks: function(s) { s.ticks = xTicks.map(function(v) { return { value: v }; }); },
          afterFit: function(s) { s.height = marginB; },
          grid: { color: 'rgba(135,135,135,0.8)', lineWidth: 1.3, z: 1, drawTicks: false },
          border: { display: false, dash: [7, 4] },
          ticks: { color: '#000', maxRotation: 0, autoSkip: false, padding: 4, font: { family: fontFamily, size: tickSize }, callback: function(v) { return xTickLabels[xTicks.indexOf(v)]; } }
        },
        y: {
          type: 'linear', min: -90, max: 90,
          afterBuildTicks: function(s) { s.ticks = yTicks.map(function(v) { return { value: v }; }); },
          afterFit: function(s) { s.width = marginL; },
          grid: { color: 'rgba(135,135,135,0.8)', lineWidth: 1.3, z: 1, drawTicks: false },
          border: { display: false, dash: [7, 4] },
          ticks: { color: '#000', autoSkip: false, padding: 5, font: { family: fontFamily, size: tickSize }, callback: function(v) { return yTickLabels[yTicks.indexOf(v)]; } }
        }
      }
    }
  });
}

function drawColorbar(p) {
  var pad = 9, axisW = 62, padL = 2;
  var left = Math.round(p.left + axW + cbGap) - padL, top = Math.floor(p.top) - pad;
  var cv = addCanvas(left, top, padL + cbW + axisW, axH + 2 * pad + 1);
  var sets = p.colors.map(function(col, i) {
    return { data: [[p.levels[i], p.levels[i + 1]]], backgroundColor: col, barPercentage: 1, categoryPercentage: 1, grouped: false, borderWidth: 0 };
  });
  new Chart(cv, {
    type: 'bar',
    data: { labels: [''], datasets: sets },
    plugins: [framePlugin, cbLabelPlugin],
    options: {
      responsive: false,
      animation: false,
      layout: { padding: { left: padL, top: pad, bottom: pad } },
      plugins: {
        legend: { display: false },
        tooltip: { enabled: false },
        title: { display: false },
        cbLabel: { text: p.label, gap: p.labelGap }
      },
      scales: {
        x: { display: false },
        y: {
          position: 'right',
          min: p.levels[0], max: p.levels[p.levels.length - 1],
          afterBuildTicks: function(s) { s.ticks = p.ticks.map(function(v) { return { value: v }; }); },
          afterFit: function(s) { s.width = axisW; },
          grid: { drawOnChartArea: false, color: '#333', tickLength: 4 },
          border: { display: false },
          ticks: { color: '#000', autoSkip: false, padding: 2, font: { family: fontFamily, size: tickSize } }
        }
      }
    }
  });
}

panels.forEach(function(p) {
  drawMap(p);
  drawColorbar(p);
  var tag = document.createElement('div');
  tag.className = 'letter';
  tag.textContent = p.letter;
  tag.style.left = p.letterX + 'px';
  tag.style.top = p.letterY + 'px';
  page.appendChild(tag);
});
</script>
</body>
</html>
